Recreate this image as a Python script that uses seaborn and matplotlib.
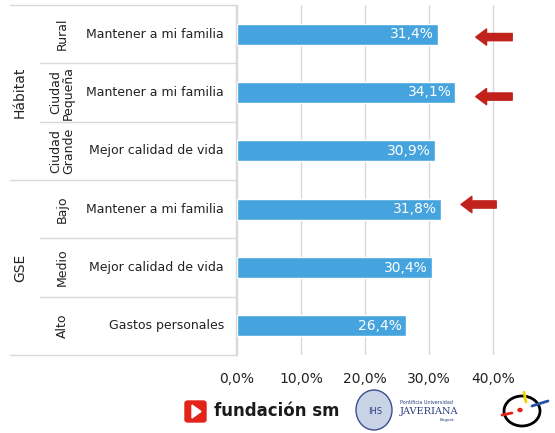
import matplotlib
matplotlib.use("Agg")
import matplotlib.pyplot as plt
import matplotlib.patches as mpatches
from matplotlib.ticker import FuncFormatter
import pandas as pd
import seaborn as sns

# data
groups = ["Hábitat", "GSE"]
subgroups = ["Rural", "Ciudad\nPequeña", "Ciudad\nGrande", "Bajo", "Medio", "Alto"]
reasons = ["Mantener a mi familia", "Mantener a mi familia", "Mejor calidad de vida",
           "Mantener a mi familia", "Mejor calidad de vida", "Gastos personales"]
values = [31.4, 34.1, 30.9, 31.8, 30.4, 26.4]
arrow_rows = [0, 1, 3]
ticks = [0, 10, 20, 30, 40]

df = pd.DataFrame({"sub": subgroups, "motivo": reasons, "valor": values})

sns.set_style("white")
plt.rcParams["font.family"] = ["DejaVu Sans"]

fig = plt.figure(figsize=(5.55, 4.33), dpi=100)
W, H = 555, 433
ax_left, ax_right, ax_top, ax_bot = 237, 525, 5, 355
ax = fig.add_axes([ax_left / W, (H - ax_bot) / H, (ax_right - ax_left) / W, (ax_bot - ax_top) / H])
tab = fig.add_axes([0, (H - ax_bot) / H, ax_left / W, (ax_bot - ax_top) / H])

bar_color = "#45A4DE"
sns.barplot(data=df, x="valor", y="sub", orient="h", color=bar_color, width=0.36,
            saturation=1, ax=ax)
ax.set_xlim(0, 45)
ax.set_ylim(5.5, -0.5)
ax.set_xticks(ticks)
ax.xaxis.set_major_formatter(FuncFormatter(lambda v, p: f"{v:.1f}%".replace(".", ",")))
ax.tick_params(axis="x", length=0, pad=12, labelsize=10, colors="#222222")
ax.set_yticks([])
ax.set_xlabel("")
ax.set_ylabel("")
ax.grid(axis="x", color="#D9D9D9", linewidth=1)
ax.set_axisbelow(True)
for s in ax.spines.values():
    s.set_visible(False)

# value labels inside bars
for i, v in enumerate(values):
    ax.text(v - 0.6, i, f"{v:.1f}%".replace(".", ","), ha="right", va="center",
            color="white", fontsize=10)

# red arrows
arrow_x = {0: (43.0, 37.3), 1: (43.0, 37.3), 3: (40.5, 35.0)}
arrow_dy = {0: 0.05, 1: 0.07, 3: -0.08}
for r in arrow_rows:
    x0, x1 = arrow_x[r]
    ax.annotate("", xy=(x1, r + arrow_dy[r]), xytext=(x0, r + arrow_dy[r]),
                arrowprops=dict(arrowstyle="simple,head_width=0.9,head_length=0.6,tail_width=0.4",
                                color="#C1221B", mutation_scale=13, shrinkA=0, shrinkB=0),
                annotation_clip=False)

# left table
tab.set_xlim(0, ax_left)
tab.set_ylim(5.5, -0.5)
tab.axis("off")
line_c = "#D9D9D9"
for y in [-0.5, 2.5, 5.5]:
    tab.plot([10, ax_left], [y, y], color=line_c, lw=1, clip_on=False)
for y in [0.5, 1.5, 3.5, 4.5]:
    tab.plot([40, ax_left], [y, y], color=line_c, lw=1, clip_on=False)
tab.plot([ax_left - 0.5, ax_left - 0.5], [-0.5, 5.5], color=line_c, lw=1, clip_on=False)

tab.text(20, 1, groups[0], rotation=90, ha="center", va="center", fontsize=10, color="#222222")
tab.text(20, 4, groups[1], rotation=90, ha="center", va="center", fontsize=10, color="#222222")
for i, (sg, rs) in enumerate(zip(subgroups, reasons)):
    tab.text(62, i, sg, rotation=90, ha="center", va="center", fontsize=9,
             linespacing=1.0, color="#222222")
    tab.text(224, i, rs, ha="right", va="center", fontsize=9, color="#222222")

# logos at the bottom (approximate)
fig.patches.append(mpatches.FancyBboxPatch((185 / W, (H - 422) / H), 21 / W, 21 / H,
                                           boxstyle="round,pad=0,rounding_size=0.005",
                                           transform=fig.transFigure, color="#E2231A"))
fig.patches.append(mpatches.Polygon([[192 / W, (H - 405) / H], [192 / W, (H - 418) / H],
                                     [201 / W, (H - 411.5) / H]], closed=True,
                                    transform=fig.transFigure, color="white"))
fig.text(214 / W, (H - 411) / H, "fundación sm", fontsize=12, fontweight="bold",
         va="center", ha="left", color="#1a1a1a")
fig.patches.append(mpatches.Ellipse((374 / W, (H - 410) / H), 36 / W, 40 / H,
                                    transform=fig.transFigure, facecolor="#C9D3E6",
                                    edgecolor="#3B4F8C", lw=1))
fig.text(375 / W, (H - 412) / H, "IHS", fontsize=6, ha="center", va="center", color="#2B3F7F")
fig.text(400 / W, (H - 402) / H, "Pontificia Universidad", fontsize=3.5, ha="left",
         va="center", color="#2B3F7F")
fig.text(400 / W, (H - 411) / H, "JAVERIANA", fontsize=7, ha="left", va="center",
         color="#2B3F7F", family="DejaVu Serif")
fig.text(440 / W, (H - 420) / H, "Bogotá", fontsize=3, ha="left", va="center", color="#2B3F7F")
fig.patches.append(mpatches.Ellipse((522 / W, (H - 411) / H), 36 / W, 30 / H,
                                    transform=fig.transFigure, facecolor="none",
                                    edgecolor="black", lw=2))
fig.lines.append(plt.Line2D([502 / W, 512 / W], [(H - 415) / H, (H - 413) / H],
                            transform=fig.transFigure, color="#E2231A", lw=2))
fig.lines.append(plt.Line2D([524 / W, 526 / W], [(H - 392) / H, (H - 402) / H],
                            transform=fig.transFigure, color="#F2D500", lw=2))
fig.lines.append(plt.Line2D([532 / W, 548 / W], [(H - 406) / H, (H - 401) / H],
                            transform=fig.transFigure, color="#2451A4", lw=2))
fig.patches.append(mpatches.Circle((520 / W, (H - 410) / H), 2 / W,
                                   transform=fig.transFigure, color="#E2231A"))

fig.savefig("out.png", dpi=100)
